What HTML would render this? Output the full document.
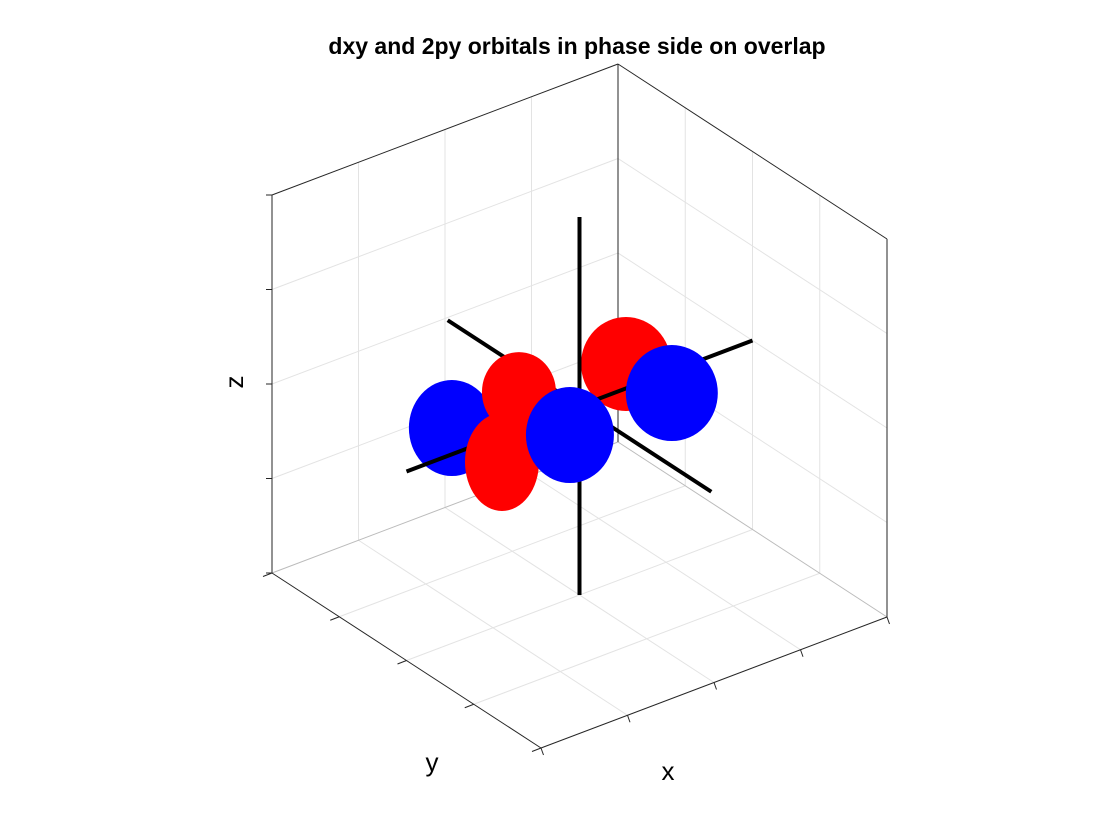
<!DOCTYPE html>
<html><head><meta charset="utf-8"><style>
html,body{margin:0;padding:0;background:#fff;}
svg{display:block;font-family:"Liberation Sans",Arial,sans-serif;}
</style></head><body>
<svg id="chart" width="1120" height="840" viewBox="0 0 1120 840" xmlns="http://www.w3.org/2000/svg">
<text x="577" y="54" text-anchor="middle" font-size="23" font-weight="bold">dxy and 2py orbitals in phase side on overlap</text>
<g id="grid"></g><g id="box"></g><g id="marks"></g>
<text x="243" y="382" font-size="26" text-anchor="middle" transform="rotate(-90 243 382)">z</text>
<text x="432" y="771" font-size="26" text-anchor="middle">y</text>
<text x="668" y="780" font-size="26" text-anchor="middle">x</text>
</svg>
<script>
// grid tick positions (normalized axis units)
const gridTicks = [-0.5, 0, 0.5];
// lobe data: name, u (x), v (y), z, radii in px, colour
const lobeNames = ['blue-lobe-left','red-lobe-right','blue-lobe-right','red-lobe-top','red-lobe-bottom','blue-lobe-center'];
const lobeX = [-0.59, 0.269, 0.41, -0.35, -0.448, -0.198];
const lobeY = [0.19, 0, -0.159, 0, 0, -0.1835];
const lobeZ = [0, 0.129, 0, 0.195, -0.141, 0];
const lobeRx = [43, 45, 46, 37, 37, 44];
const lobeRy = [48, 47, 48, 40, 49, 48];
const lobeColor = ['#0000ff','#ff0000','#0000ff','#ff0000','#ff0000','#0000ff'];
const axisExtent = [1, 0.98, 1];

const C=[579.5,406], ex=[173,-65.5], ey=[-134.5,-87.5], ez=[0,-189];
function P(u,v,z){return [C[0]+u*ex[0]+v*ey[0]+z*ez[0], C[1]+u*ex[1]+v*ey[1]+z*ez[1]];}
const NS='http://www.w3.org/2000/svg';
function line(g,a,b,stroke,w,name){const l=document.createElementNS(NS,'line');
l.setAttribute('x1',a[0]);l.setAttribute('y1',a[1]);l.setAttribute('x2',b[0]);l.setAttribute('y2',b[1]);
l.setAttribute('stroke',stroke);l.setAttribute('stroke-width',w);


g.appendChild(l);return l;}
const grid=document.getElementById('grid'), box=document.getElementById('box'), marks=document.getElementById('marks');
const gc='#e3e3e3';
gridTicks.forEach(t=>{
  line(grid,P(1,t,-1),P(1,t,1),gc,1,'grid-line');
  line(grid,P(1,-1,t),P(1,1,t),gc,1,'grid-line');
  line(grid,P(t,1,-1),P(t,1,1),gc,1,'grid-line');
  line(grid,P(-1,1,t),P(1,1,t),gc,1,'grid-line');
  line(grid,P(t,-1,-1),P(t,1,-1),gc,1,'grid-line');
  line(grid,P(-1,t,-1),P(1,t,-1),gc,1,'grid-line');
});
line(grid,P(1,1,-1),P(-1,1,-1),'#bbb',1,'floor-back-edge');
line(grid,P(1,1,-1),P(1,-1,-1),'#bbb',1,'floor-back-edge');
const bc='#262626';
[[P(-1,1,-1),P(-1,1,1)],[P(1,-1,-1),P(1,-1,1)],[P(1,1,-1),P(1,1,1)],
 [P(-1,1,1),P(1,1,1)],[P(1,-1,1),P(1,1,1)],
 [P(-1,1,-1),P(-1,-1,-1)],[P(-1,-1,-1),P(1,-1,-1)]].forEach(s=>line(box,s[0],s[1],bc,1,'box-edge'));
gridTicks.concat([-1,1]).forEach(t=>{
  const a=P(-1,1,t); line(box,a,[a[0]-6,a[1]],bc,1,'z-tick');
  const b=P(-1,t,-1); line(box,b,[b[0]-9,b[1]+3.5],bc,1,'y-tick');
  const c=P(t,-1,-1); line(box,c,[c[0]+2.5,c[1]+7],bc,1,'x-tick');
});
function lobe(i){const e=document.createElementNS(NS,'ellipse');const p=P(lobeX[i],lobeY[i],lobeZ[i]);
e.setAttribute('cx',p[0]);e.setAttribute('cy',p[1]);e.setAttribute('rx',lobeRx[i]);e.setAttribute('ry',lobeRy[i]);
e.setAttribute('fill',lobeColor[i]);


marks.appendChild(e);}
lobe(0); lobe(1);
line(marks,P(-axisExtent[0],0,0),P(axisExtent[0],0,0),'#000',4,'x-axis-line');
line(marks,P(0,axisExtent[1],0),P(0,-axisExtent[1],0),'#000',4,'y-axis-line');
line(marks,P(0,0,axisExtent[2]),P(0,0,-axisExtent[2]),'#000',4,'z-axis-line');
lobe(2); lobe(3); lobe(4); lobe(5);
</script>
</body></html>
